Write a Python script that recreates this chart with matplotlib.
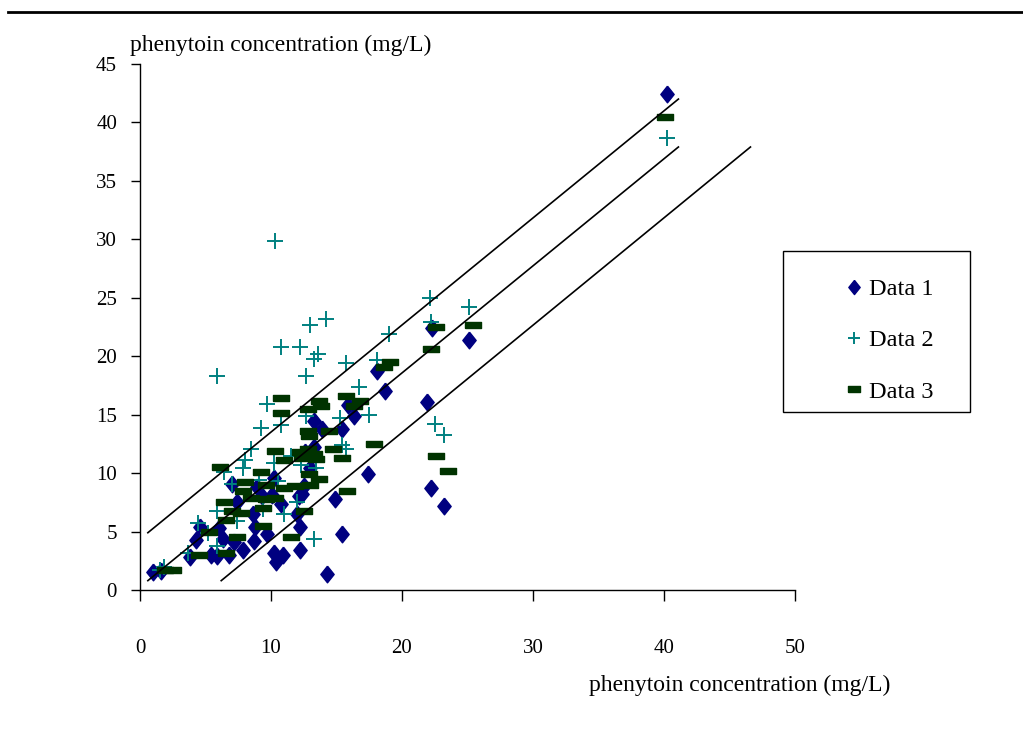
import matplotlib
matplotlib.use("Agg")
import matplotlib.pyplot as plt
from matplotlib.lines import Line2D
from matplotlib.patches import Rectangle

# ---- data ----
d1_x = [1.0, 1.6, 3.8, 4.3, 4.6, 5.4, 5.9, 6.0, 6.3, 6.8, 7.0, 7.2, 7.4, 7.9, 8.6, 8.7,
        8.8, 8.9, 9.3, 9.7, 10.1, 10.2, 10.2, 10.4, 10.8, 10.9, 12.0, 12.1, 12.2, 12.2,
        12.4, 12.5, 12.6, 13.0, 13.1, 13.3, 13.3, 13.9, 14.3, 14.9, 15.4, 15.4, 15.9,
        16.3, 17.4, 18.1, 18.7, 21.9, 22.2, 22.3, 23.2, 25.1, 40.2]
d1_y = [1.5, 1.6, 2.8, 4.3, 5.4, 3.0, 2.9, 5.3, 4.4, 3.0, 9.1, 4.1, 7.5, 3.4, 6.5, 4.2,
        5.4, 8.8, 8.0, 4.8, 8.1, 9.6, 3.2, 2.4, 7.4, 3.0, 6.5, 8.0, 5.4, 3.4,
        8.2, 8.9, 11.8, 10.4, 11.5, 14.5, 12.2, 13.8, 1.4, 7.8, 13.8, 4.8, 15.8,
        14.9, 9.9, 18.7, 17.0, 16.1, 8.7, 22.4, 7.2, 21.4, 42.4]

d2_x = [1.5, 1.8, 3.7, 4.4, 5.2, 5.9, 5.9, 5.9, 6.4, 7.0, 7.4, 8.0, 7.9, 8.5, 9.2, 9.1,
        9.4, 9.7, 10.2, 10.3, 10.5, 10.8, 10.8, 11.0, 11.5, 12.0, 12.2, 12.3, 12.7, 12.7,
        13.0, 13.3, 13.6, 13.3, 13.4, 14.2, 15.3, 15.7, 15.4, 15.7, 16.7, 17.5, 18.1,
        19.0, 22.1, 22.2, 22.5, 23.2, 25.1, 40.2]
d2_y = [1.7, 2.0, 3.2, 5.7, 4.9, 18.3, 3.8, 6.8, 10.1, 9.1, 5.9, 11.1, 10.4, 12.1, 13.9, 9.4,
        6.9, 15.9, 10.9, 29.9, 9.3, 14.1, 20.8, 6.5, 11.5, 7.5, 20.8, 10.7, 18.3, 14.9,
        22.7, 19.8, 20.2, 4.4, 10.4, 23.2, 14.7, 19.4, 12.4, 12.1, 17.4, 15.0, 19.7,
        21.9, 25.0, 22.9, 14.2, 13.3, 24.2, 38.7]

d3_x = [1.9, 2.5, 4.5, 5.3, 6.6, 6.1, 6.4, 6.6, 7.0, 7.7, 7.4, 8.0, 7.9, 8.5, 9.2, 9.6,
        9.4, 9.4, 9.6, 10.3, 10.3, 10.8, 10.8, 11.0, 11.0, 11.5, 11.8, 12.2, 12.4, 12.5,
        12.8, 12.8, 12.9, 12.8, 12.9, 13.0, 13.3, 13.4, 13.7, 13.8, 13.7, 14.4, 14.7,
        15.7, 15.4, 15.8, 16.3, 16.8, 17.9, 18.6, 19.1, 22.2, 22.6, 22.6, 23.5, 25.4, 40.1]
d3_y = [1.7, 1.7, 3.0, 5.0, 3.2, 10.5, 7.5, 6.0, 6.8, 6.6, 4.5, 9.2, 8.5, 7.9, 10.1, 7.8,
        7.0, 5.5, 9.0, 11.9, 7.9, 16.4, 15.1, 11.1, 8.7, 4.5, 8.9, 11.8, 11.3, 6.8,
        15.5, 13.6, 13.2, 12.1, 9.9, 9.0, 11.6, 11.2, 16.2, 15.7, 9.5, 13.6, 12.1,
        16.6, 11.3, 8.5, 15.7, 16.2, 12.5, 19.1, 19.5, 20.6, 22.5, 11.5, 10.2, 22.7, 40.5]

# the three reference lines (start / end points)
line_x0 = [0.6, 0.6, 6.2]
line_y0 = [4.9, 0.8, 0.8]
line_x1 = [41.1, 41.1, 46.6]
line_y1 = [42.0, 37.9, 37.9]

series_labels = ["Data 1", "Data 2", "Data 3"]
axis_label = "phenytoin concentration (mg/L)"

# ---- style ----
plt.rcParams["font.family"] = ["Liberation Serif", "DejaVu Serif"]
c1, c2, c3 = "#000080", "#008080", "#003300"
diamond = [(0, 1), (0.8, 0), (0, -1), (-0.8, 0), (0, 1)]
dash = [(-1, -0.4), (1, -0.4), (1, 0.4), (-1, 0.4), (-1, -0.4)]

fig = plt.figure(figsize=(10.23, 7.51), dpi=100)
ax = fig.add_axes([140 / 1023, (751 - 590) / 751, 655 / 1023, 526 / 751])

ax.plot(d1_x, d1_y, ls="none", marker=diamond, ms=12, color=c1, mec=c1, label=series_labels[0])
ax.plot(d2_x, d2_y, ls="none", marker="+", ms=11, mew=1.4, color=c2, label=series_labels[1])
ax.plot(d3_x, d3_y, ls="none", marker=dash, ms=11, color=c3, mec=c3, label=series_labels[2])

for x0, y0, x1, y1 in zip(line_x0, line_y0, line_x1, line_y1):
    ax.plot([x0, x1], [y0, y1], color="black", lw=1.2)

ax.set_xlim(0, 50)
ax.set_ylim(0, 45)
ax.set_xticks(range(0, 51, 10))
ax.set_yticks(range(0, 46, 5))
ax.spines["top"].set_visible(False)
ax.spines["right"].set_visible(False)
for s in ("left", "bottom"):
    ax.spines[s].set_linewidth(1.0)
ax.tick_params(axis="x", direction="out", length=8, width=1, pad=27, labelsize=15)
ax.tick_params(axis="y", direction="out", length=6.5, width=1, pad=10, labelsize=15)

fig.text(130 / 1023, 1 - 45 / 751, axis_label, ha="left", va="center", fontsize=17)
fig.text(890 / 1023, 1 - 685 / 751, axis_label, ha="right", va="center", fontsize=17)

# rule across the top of the page
fig.add_artist(Line2D([8 / 1023, 1.0], [1 - 12 / 751, 1 - 12 / 751], color="black", lw=2))

# legend box drawn separately, legend entries placed inside it
fig.add_artist(Rectangle((783 / 1023, 1 - 412 / 751), 187 / 1023, 161 / 751,
                         transform=fig.transFigure, fill=False, ec="black", lw=1))
fig.legend(loc="upper left", bbox_to_anchor=(835 / 1023, 1 - 266 / 751),
           frameon=False, fontsize=17.5, borderpad=0, handlelength=0.6,
           handletextpad=0.3, labelspacing=1.2, markerscale=0.85)

plt.savefig("out.png", dpi=100)
plt.close()
